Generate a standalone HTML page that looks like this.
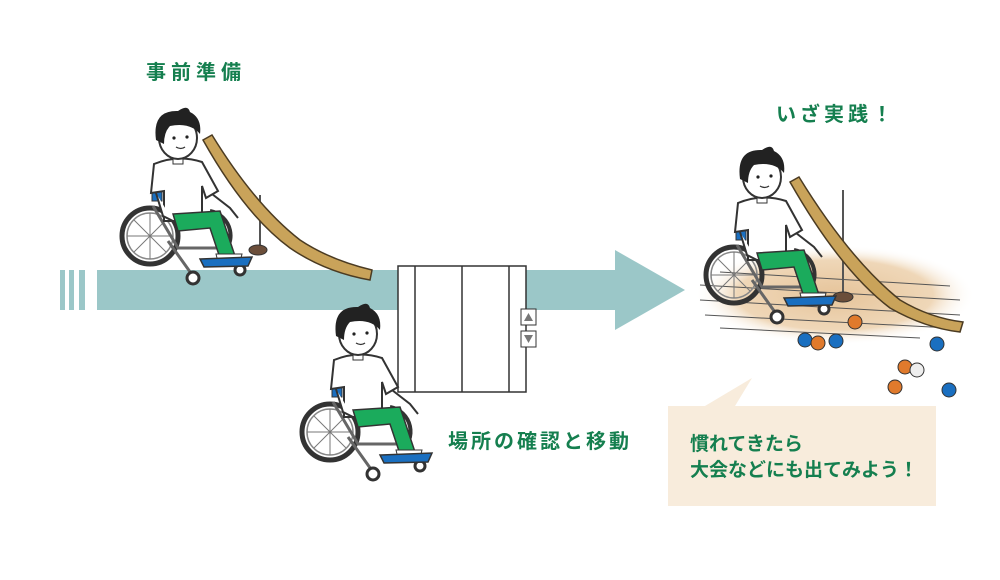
<!DOCTYPE html>
<html><head><meta charset="utf-8"><style>
html,body{margin:0;padding:0;background:#fff;}
svg{display:block;}
text{font-family:"Liberation Sans","Noto Sans CJK JP",sans-serif;font-weight:bold;fill:#157f4f;}
</style></head><body>
<svg width="1000" height="580" viewBox="0 0 1000 580" xmlns="http://www.w3.org/2000/svg">
<defs>
<radialGradient id="fl" cx="0.5" cy="0.5" r="0.5">
<stop offset="0" stop-color="#e6c49a"/><stop offset="0.7" stop-color="#efd7b8"/><stop offset="1" stop-color="#fff" stop-opacity="0"/>
</radialGradient>
<g id="p">
<circle cx="-28" cy="100" r="28" fill="none" stroke="#333" stroke-width="5"/>
<circle cx="-28" cy="100" r="23" fill="none" stroke="#888" stroke-width="1.5"/>
<g stroke="#777" stroke-width="1">
<line x1="-51" y1="100" x2="-5" y2="100"/><line x1="-28" y1="77" x2="-28" y2="123"/>
<line x1="-44" y1="84" x2="-12" y2="116"/><line x1="-12" y1="84" x2="-44" y2="116"/>
</g>
<path d="M 32 75 A 25 25 0 0 1 42 120" fill="none" stroke="#333" stroke-width="4"/>
<path d="M -25 70 L 0 112 L 40 112 M -10 105 L 15 140" stroke="#666" stroke-width="3" fill="none"/>
<circle cx="15" cy="142" r="6" fill="#fff" stroke="#333" stroke-width="3"/>
<circle cx="62" cy="134" r="5" fill="#fff" stroke="#333" stroke-width="3"/>
<rect x="-26" y="45" width="10" height="20" fill="#1a6fc0" stroke="#333"/>
<path d="M -24 28 Q 0 18 24 26 L 40 55 L 28 62 L 24 50 L 24 85 L -14 85 L -14 55 L -27 57 Z" fill="#fff" stroke="#333" stroke-width="2"/>
<path d="M -22 57 L -15 80 L -5 85" stroke="#333" stroke-width="2" fill="#fff"/>
<path d="M 34 58 L 52 72 L 60 82" stroke="#333" stroke-width="2" fill="none"/>
<path d="M -5 78 L 42 75 L 57 120 L 42 122 L 32 92 L 0 95 Z" fill="#1bab5c" stroke="#333" stroke-width="1.5"/>
<path d="M 38 118 L 64 118 L 62 126 L 40 126 Z" fill="#fff" stroke="#333"/>
<path d="M 22 123 L 74 121 L 70 130 L 26 131 Z" fill="#1a6fc0" stroke="#333" stroke-width="1.5"/>
<rect x="-5" y="18" width="10" height="10" fill="#fff" stroke="#333"/>
<ellipse cx="0" cy="2" rx="19" ry="21" fill="#fff" stroke="#333" stroke-width="2"/>
<path d="M -22 4 Q -26 -26 0 -25 Q 10 -32 12 -24 Q 24 -18 22 -2 Q 12 -14 -8 -10 Q -14 -4 -14 8 Z" fill="#222"/>
<circle cx="-4" cy="2" r="1.6" fill="#222"/><circle cx="9" cy="1" r="1.6" fill="#222"/>
<path d="M -2 11 Q 3 14 7 11" stroke="#333" fill="none" stroke-width="1.3"/>
</g>
</defs>

<rect x="60" y="270" width="5" height="40" fill="#9bc7c8"/>
<rect x="69" y="270" width="5" height="40" fill="#9bc7c8"/>
<rect x="79" y="270" width="6" height="40" fill="#9bc7c8"/>
<rect x="97" y="270" width="520" height="40" fill="#9bc7c8"/>
<polygon points="615,250 685,290 615,330" fill="#9bc7c8"/>

<line x1="260" y1="195" x2="260" y2="250" stroke="#555" stroke-width="2"/>
<ellipse cx="258" cy="250" rx="9" ry="5" fill="#6b4e3a" stroke="#333"/>
<path d="M 203 140 L 212 135 Q 255 205 300 240 Q 330 260 372 270 L 370 280 Q 325 272 290 248 Q 245 215 203 140 Z" fill="#c9a35a" stroke="#4b3b22" stroke-width="1.5"/>

<use href="#p" x="178" y="136"/>

<rect x="398" y="266" width="128" height="126" fill="#fff" stroke="#333" stroke-width="1.5"/>
<line x1="415" y1="266" x2="415" y2="392" stroke="#333" stroke-width="1.5"/>
<line x1="462" y1="266" x2="462" y2="392" stroke="#333" stroke-width="1.5"/>
<line x1="509" y1="266" x2="509" y2="392" stroke="#333" stroke-width="1.5"/>
<rect x="521" y="309" width="15" height="16" fill="#fff" stroke="#333"/>
<polygon points="528.5,313 533,321 524,321" fill="#777"/>
<rect x="521" y="331" width="15" height="16" fill="#fff" stroke="#333"/>
<polygon points="524,335 533,335 528.5,343" fill="#777"/>

<use href="#p" x="358" y="332"/>

<ellipse cx="835" cy="295" rx="140" ry="50" fill="url(#fl)"/>
<g stroke="#555" stroke-width="1">
<line x1="700" y1="285" x2="960" y2="300"/><line x1="700" y1="300" x2="960" y2="315"/>
<line x1="705" y1="315" x2="950" y2="328"/><line x1="720" y1="328" x2="920" y2="338"/>
<line x1="720" y1="272" x2="950" y2="286"/>
</g>
<line x1="843" y1="190" x2="843" y2="296" stroke="#555" stroke-width="2"/>
<ellipse cx="843" cy="297" rx="10" ry="5" fill="#6b4e3a" stroke="#333"/>
<path d="M 790 182 L 799 177 Q 850 260 900 300 Q 930 318 963 322 L 960 332 Q 925 328 890 308 Q 840 270 790 182 Z" fill="#c9a35a" stroke="#4b3b22" stroke-width="1.5"/>

<use href="#p" x="762" y="175"/>

<g stroke="#333" stroke-width="1">
<circle cx="855" cy="322" r="7" fill="#e07a2c"/>
<circle cx="805" cy="340" r="7" fill="#1a6fc0"/>
<circle cx="818" cy="343" r="7" fill="#e07a2c"/>
<circle cx="836" cy="341" r="7" fill="#1a6fc0"/>
<circle cx="937" cy="344" r="7" fill="#1a6fc0"/>
<circle cx="905" cy="367" r="7" fill="#e07a2c"/>
<circle cx="917" cy="370" r="7" fill="#eee"/>
<circle cx="895" cy="387" r="7" fill="#e07a2c"/>
<circle cx="949" cy="390" r="7" fill="#1a6fc0"/>
</g>

<polygon points="705,406 752,378 735,406" fill="#f8ecdc"/>
<rect x="668" y="406" width="268" height="100" fill="#f8ecdc"/>

<text x="146" y="79" font-size="20" letter-spacing="5">事前準備</text>
<text x="776" y="121" font-size="20" letter-spacing="4">いざ実践！</text>
<text x="448" y="448" font-size="20" letter-spacing="3">場所の確認と移動</text>
<text x="690" y="450" font-size="19">慣れてきたら</text>
<text x="690" y="476" font-size="19">大会などにも出てみよう！</text>
</svg>
</body></html>
